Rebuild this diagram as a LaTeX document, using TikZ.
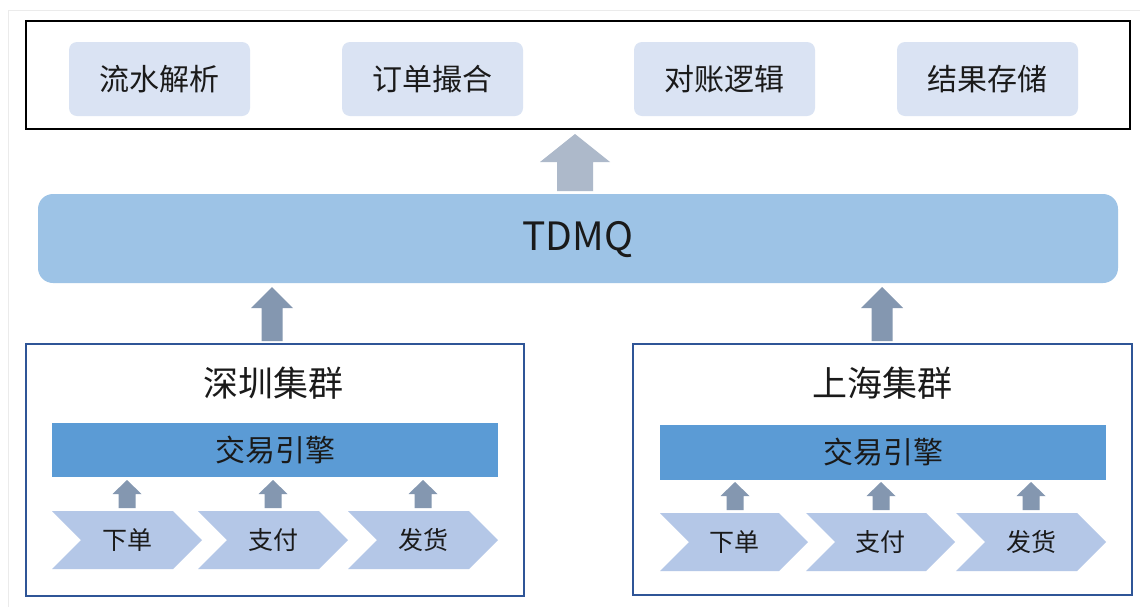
\documentclass[tikz,border=0pt]{standalone}
\usepackage{fontspec}
\setmainfont{Noto Sans CJK SC}
\newfontfamily\cjk{Noto Sans CJK SC}
\definecolor{modbox}{HTML}{DAE3F3}
\definecolor{tdmqc}{HTML}{9DC3E6}
\definecolor{arrtop}{HTML}{ADB9CA}
\definecolor{arrdark}{HTML}{8497B0}
\definecolor{clusterc}{HTML}{2F5597}
\definecolor{enginec}{HTML}{5B9BD5}
\definecolor{chevc}{HTML}{B4C7E7}
\definecolor{txt}{HTML}{1A1A1A}
\tikzset{
  modnode/.style={fill=modbox, rounded corners=8pt, text=txt, font=\cjk\fontsize{30}{30}\selectfont},
  clusterbox/.style={draw=clusterc, line width=1.6pt},
  enginebar/.style={fill=enginec, text=txt, font=\cjk\fontsize{30}{30}\selectfont},
  chevtext/.style={text=txt, font=\cjk\fontsize{25}{25}\selectfont},
  titletext/.style={text=txt, font=\cjk\fontsize{35}{35}\selectfont},
}
% block up arrow: #1 cx, #2 tip y, #3 head base y, #4 bottom y, #5 head half, #6 shaft half, #7 colour
\newcommand\blockup[7]{%
  \fill[#7] (#1,#2) -- (#1+#5,#3) -- (#1+#6,#3) -- (#1+#6,#4) -- (#1-#6,#4) -- (#1-#6,#3) -- (#1-#5,#3) -- cycle;}
% chevron: #1 left x, #2 right x, #3 top y, #4 bottom y, #5 depth, #6 name, #7 text
\newcommand\chev[7]{%
  \fill[chevc] (#1,#3) -- (#2-#5,#3) -- (#2,{(#3+#4)/2}) -- (#2-#5,#4) -- (#1,#4) -- (#1+#5,{(#3+#4)/2}) -- cycle;
  \node[chevtext] (#6) at ({(#1+#2)/2},{(#3+#4)/2}) {#7};}
\begin{document}
\begin{tikzpicture}[x=1pt,y=-1pt]
\useasboundingbox (0,0) rectangle (1140,606);
\fill[white] (0,0) rectangle (1140,606);
\draw[black!8, line width=1pt] (8,620) -- (8,10) -- (1150,10);

% top box
\draw[black, line width=1.5pt] (26,21) rectangle (1130,129);
\path[modnode] (69,42) rectangle (250,116);
\node[modnode, fill=none] (m1) at (159.5,79) {流水解析};
\path[modnode] (342,42) rectangle (523,116);
\node[modnode, fill=none] (m2) at (432.5,79) {订单撮合};
\path[modnode] (634,42) rectangle (815,116);
\node[modnode, fill=none] (m3) at (724.5,79) {对账逻辑};
\path[modnode] (897,42) rectangle (1078,116);
\node[modnode, fill=none] (m4) at (987.5,79) {结果存储};

% arrow to top
\blockup{575}{134}{162}{191}{35}{18}{arrtop}

% TDMQ
\fill[tdmqc, rounded corners=15pt] (38,194) rectangle (1118,283);
\node[text=txt, font=\cjk\fontsize{39}{39}\selectfont] (tdmq) at (578,240) {TDMQ};

% arrows to TDMQ
\blockup{272}{287}{308}{341}{21}{10.5}{arrdark}
\blockup{882}{287}{308}{341}{21}{10.5}{arrdark}

% Shenzhen cluster
\draw[clusterbox] (26,344) rectangle (524,596);
\node[titletext] (szt) at (273,383) {深圳集群};
\fill[enginec] (52,423) rectangle (498,477);
\node[enginebar, fill=none] (sze) at (275,450) {交易引擎};
\blockup{127}{480}{494}{508}{14.5}{8.5}{arrdark}
\blockup{273}{480}{494}{508}{14.5}{8.5}{arrdark}
\blockup{423}{480}{494}{508}{14.5}{8.5}{arrdark}
\chev{52}{202}{511}{569}{29}{sz1}{下单}
\chev{198}{348}{511}{569}{29}{sz2}{支付}
\chev{348}{498}{511}{569}{29}{sz3}{发货}

% Shanghai cluster
\draw[clusterbox] (633,344) rectangle (1132,595);
\node[titletext] (sht) at (882,383) {上海集群};
\fill[enginec] (660,425) rectangle (1106,480);
\node[enginebar, fill=none] (she) at (883,452) {交易引擎};
\blockup{735}{482}{496}{510}{14.5}{8.5}{arrdark}
\blockup{881}{482}{496}{510}{14.5}{8.5}{arrdark}
\blockup{1031}{482}{496}{510}{14.5}{8.5}{arrdark}
\chev{660}{808}{513}{571}{29}{sh1}{下单}
\chev{806}{955}{513}{571}{29}{sh2}{支付}
\chev{956}{1106}{513}{571}{29}{sh3}{发货}
\end{tikzpicture}
\end{document}
